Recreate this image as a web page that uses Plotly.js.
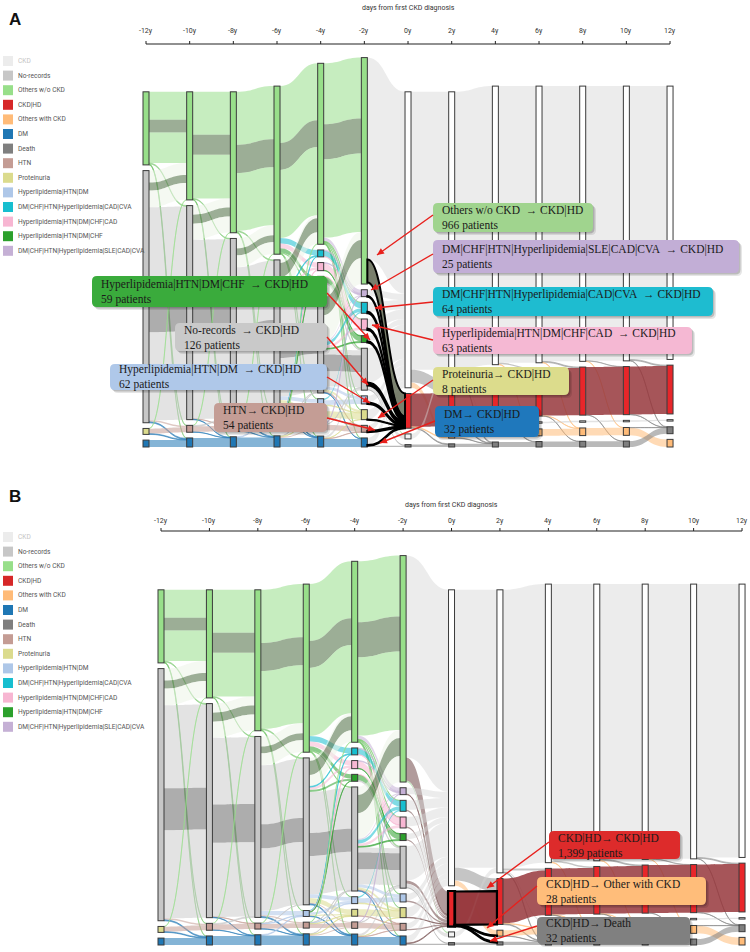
<!DOCTYPE html>
<html><head><meta charset="utf-8">
<script src="https://cdn.plot.ly/plotly-3.0.1.min.js"></script>
<style>html,body{margin:0;padding:0;background:#fff;}#chart{width:750px;height:952px;}</style>
</head><body><div id="chart"></div>
<script>
// ---------------- DATA ----------------
const timeLabels = ['-12y','-10y','-8y','-6y','-4y','-2y','0y','2y','4y','6y','8y','10y','12y'];
const axisTitle = 'days from first CKD diagnosis';
const stateNames = {S:'CKD', N:'No-records', G:'Others w/o CKD', R:'CKD|HD', O:'Others with CKD', D:'DM', De:'Death',
  H:'HTN', P:'Proteinuria', L:'Hyperlipidemia|HTN|DM', C:'DM|CHF|HTN|Hyperlipidemia|CAD|CVA',
  K:'Hyperlipidemia|HTN|DM|CHF|CAD', Q:'Hyperlipidemia|HTN|DM|CHF', U:'DM|CHF|HTN|Hyperlipidemia|SLE|CAD|CVA'};
const legendOrder = ['S','N','G','R','O','D','De','H','P','L','C','K','Q','U'];

// states present at each time point (top to bottom)
const columnStates = [
  ['G','N','P','D'],
  ['G','N','H','D'],
  ['G','N','H','D'],
  ['G','N','L','H','D'],
  ['G','C','K','Q','N','L','P','H','D'],
  ['G','U','C','K','Q','N','L','P','H','D'],
  ['S','R','N','De'],
  ['S','R','O','De'],
  ['S','R','N','O','De'],
  ['S','R','N','O','De'],
  ['S','R','N','O','De'],
  ['S','R','N','O','De'],
  ['S','R','N','De','O']
];

// patient flows between consecutive time points [from, to, patients]
// (a pair listed three times = sub-group shown in the middle)
const flowsM12 = [['G','G',1170],['G','G',540],['G','G',1280],['G','N',40],['G','H',20],['G','D',20],
  ['N','G',500],['N','G',340],['N','G',700],['N','N',3490],['N','N',1760],['N','N',3700],['N','H',60],['N','D',40],
  ['P','G',10],['P','H',210],['P','D',30],['D','D',290]];
const flowsM10 = [['G','G',1800],['G','G',840],['G','G',1840],['G','N',30],['G','H',10],['G','D',20],
  ['N','G',380],['N','G',380],['N','G',670],['N','N',2810],['N','N',1600],['N','N',3120],['N','H',10],['N','D',20],
  ['H','G',10],['H','N',40],['H','H',230],['H','D',10],['D','D',380]];
const flowsM8 = [['G','G',2230],['G','G',1180],['G','G',2430],['G','N',40],['G','L',20],['G','D',20],
  ['N','G',420],['N','G',290],['N','G',500],['N','N',2480],['N','N',1010],['N','N',2630],['N','L',180],['N','H',50],['N','D',40],
  ['H','G',10],['H','N',10],['H','L',20],['H','H',200],['H','D',10],['D','L',30],['D','D',400]];
const flowsM6 = [['G','G',2390],['G','G',1130],['G','G',2860],['G','C',230],['G','K',200],['G','Q',180],['G','N',30],['G','L',20],['G','D',20],
  ['N','G',130],['N','G',590],['N','G',480],['N','C',40],['N','K',100],['N','Q',90],['N','N',1720],['N','N',970],['N','N',1610],
  ['N','L',150],['N','P',200],['N','H',50],['N','D',40],
  ['L','C',20],['L','K',40],['L','Q',20],['L','L',100],['L','P',50],['L','D',20],
  ['H','G',20],['H','N',20],['H','L',20],['H','P',20],['H','H',170],
  ['D','N',20],['D','P',20],['D','H',50],['D','D',380]];
const flowsM4 = [['G','G',2560],['G','G',1470],['G','G',3290],['G','U',150],['G','C',20],['G','K',20],['G','N',40],['G','L',20],['G','P',10],['G','D',20],
  ['C','U',40],['C','C',230],['C','K',20],['K','U',30],['K','K',290],['K','Q',20],['Q','K',20],['Q','Q',230],['Q','N',40],
  ['N','G',340],['N','G',760],['N','G',1090],['N','U',50],['N','C',150],['N','K',110],['N','Q',40],['N','N',210],['N','N',710],['N','N',640],
  ['N','L',120],['N','P',100],['N','H',30],['N','D',20],
  ['L','C',60],['L','L',200],['L','P',30],['P','P',270],['P','H',20],['H','U',20],['H','N',20],['H','H',230],
  ['D','N',100],['D','P',10],['D','H',10],['D','D',340]];
const flowsM2 = [['G','S',8484],['G','R',966],['G','N',60],['U','S',265],['U','R',25],['C','S',396],['C','R',64],
  ['K','S',397],['K','R',63],['Q','S',231],['Q','R',59],['N','S',1434],['N','R',126],['N','N',150],['N','De',50],
  ['L','S',278],['L','R',62],['P','S',412],['P','R',8],['H','S',236],['H','R',54],['D','S',298],['D','R',32],['D','De',50]];
const flows0 = [['S','S',11678],['S','R',531],['S','O',222],['R','R',1399],['R','O',28],['R','De',32],['N','S',210],['De','De',100]];
const flows2 = [['S','S',11700],['S','R',90],['S','N',60],['S','De',38],['R','R',1880],['R','O',20],['R','De',30],['O','O',240],['O','De',10],['De','De',132]];
const flows4 = [['S','S',11620],['S','R',60],['S','O',20],['R','R',1940],['R','O',10],['R','De',20],['N','N',60],['O','O',260],['De','De',210]];
const flows6 = [['S','S',11560],['S','R',40],['S','O',20],['R','R',1980],['R','O',10],['R','De',10],['N','N',60],['O','O',290],['De','De',230]];
const flows8 = [['S','S',11540],['S','R',10],['S','O',10],['R','R',2010],['R','De',10],['N','N',60],['O','O',320],['De','De',240]];
const flows10 = [['S','S',11480],['S','R',40],['S','De',20],['R','R',2010],['R','De',10],['N','N',60],['O','O',320],['O','De',10],['De','De',250]];
const stageFlows = [flowsM12, flowsM10, flowsM8, flowsM6, flowsM4, flowsM2, flows0, flows2, flows4, flows6, flows8, flows10];

// callout texts
const calloutsA = [
  ['Others w/o CKD  \u2192 CKD|HD', '966 patients'],
  ['DM|CHF|HTN|Hyperlipidemia|SLE|CAD|CVA  \u2192 CKD|HD', '25 patients'],
  ['DM|CHF|HTN|Hyperlipidemia|CAD|CVA  \u2192 CKD|HD', '64 patients'],
  ['Hyperlipidemia|HTN|DM|CHF|CAD  \u2192 CKD|HD', '63 patients'],
  ['Proteinuria\u2192 CKD|HD', '8 patients'],
  ['DM\u2192 CKD|HD', '32 patients'],
  ['Hyperlipidemia|HTN|DM|CHF  \u2192 CKD|HD', '59 patients'],
  ['No-records  \u2192 CKD|HD', '126 patients'],
  ['Hyperlipidemia|HTN|DM  \u2192 CKD|HD', '62 patients'],
  ['HTN\u2192 CKD|HD', '54 patients']
];
const calloutsB = [
  ['CKD|HD\u2192 CKD|HD', '1,399 patients'],
  ['CKD|HD\u2192 Other with CKD', '28 patients'],
  ['CKD|HD\u2192 Death', '32 patients']
];

// ---------------- STYLE / LAYOUT ----------------
const stateColor = {S:'#ececec', N:'#c7c7c7', G:'#98df8a', R:'#d62728', O:'#ffbb78', D:'#1f77b4', De:'#7f7f7f',
  H:'#c49c94', P:'#dbdb8d', L:'#aec7e8', C:'#17becf', K:'#f7b6d2', Q:'#2ca02c', U:'#c5b0d5'};
const PW = 750, PH = 952;
const fx = x => x / PW, fy = y => 1 - y / PH;
function rgba(hex, a){ const n = parseInt(hex.slice(1),16); return 'rgba('+(n>>16)+','+((n>>8)&255)+','+(n&255)+','+a+')'; }

function linkColor(a, b, v, band){
  if (band) return b === 'G' ? 'rgba(95,125,85,0.62)' : 'rgba(105,105,105,0.55)';
  if (b === 'R') return a === 'R' ? 'rgba(150,55,60,0.85)' : (a === 'S' ? 'rgba(150,150,150,0.55)' : 'rgba(125,88,88,0.6)');
  if (b === 'S') return 'rgba(212,212,212,0.45)';
  if (a === 'N' && b === 'G') return 'rgba(236,244,232,0.55)';
  if (a === 'G' && b !== 'G' && v < 100) return 'rgba(120,200,110,0.5)';
  if (b === 'N' && a === 'N') return 'rgba(199,199,199,0.5)';
  return rgba(stateColor[b], 0.55);
}

function buildSankey(P){
  const idx = {}, nodes = [];
  columnStates.forEach((codes,c) => codes.forEach(code => { idx[c+':'+code] = nodes.length; nodes.push({c, code, inV:0, outV:0}); }));
  const links = [];
  stageFlows.forEach((flows, s) => {
    const count = {}, seen = {};
    flows.forEach(f => { const k = f[0]+'>'+f[1]; count[k] = (count[k]||0)+1; });
    flows.forEach(([a,b,v]) => {
      const k = a+'>'+b; seen[k] = (seen[k]||0)+1;
      const band = count[k] === 3 && seen[k] === 2;
      const si = idx[s+':'+a], ti = idx[(s+1)+':'+b];
      nodes[si].outV += v; nodes[ti].inV += v;
      links.push({si, ti, v, idx: links.length, color: linkColor(a,b,v,band), hl: P.highlight(s,a,b)});
    });
  });
  nodes.forEach(n => n.v = Math.max(n.inV, n.outV));
  const W = P.dom[1]-P.dom[0], H = P.dom[3]-P.dom[2];
  let pad = Infinity;
  columnStates.forEach((codes,c) => {
    const sum = codes.reduce((t,code) => t + nodes[idx[c+':'+code]].v, 0);
    if (codes.length > 1) pad = Math.min(pad, (H - P.ky*sum)/(codes.length-1));
  });
  columnStates.forEach((codes,c) => {
    let y = P.bottom;
    for (let i = codes.length-1; i >= 0; i--) {
      const n = nodes[idx[c+':'+codes[i]]];
      const h = n.v*P.ky;
      n.y1 = y; n.y0 = y - h; n.cy = y - h/2; y -= h + P.gap;
    }
  });
  // link band positions (same ordering rule as the sankey layout)
  nodes.forEach(n => { n.out = []; n.inn = []; });
  links.forEach(l => { nodes[l.si].out.push(l); nodes[l.ti].inn.push(l); });
  nodes.forEach(n => {
    n.out.sort((a,b) => (nodes[a.ti].y0 - nodes[b.ti].y0) || (a.idx - b.idx));
    n.inn.sort((a,b) => (nodes[a.si].y0 - nodes[b.si].y0) || (a.idx - b.idx));
    let y = n.y0; n.out.forEach(l => { l.sy0 = y; y += l.v*P.ky; });
    y = n.y0; n.inn.forEach(l => { l.ty0 = y; y += l.v*P.ky; });
  });
  const domain = {x:[fx(P.dom[0]), fx(P.dom[1])], y:[fy(P.dom[3]), fy(P.dom[2])]};
  const main = {
    type:'sankey', arrangement:'fixed', hoverinfo:'none', domain,
    node:{ pad, thickness:6, hoverinfo:'none', label: nodes.map(() => ''),
      x: nodes.map(n => (P.colX[n.c]-P.dom[0])/W),
      y: nodes.map(n => (n.cy-P.dom[2])/H),
      color: nodes.map(n => n.code === 'S' ? '#ffffff' : (n.code === 'R' ? '#e8262a' : (n.code==='N' && n.c>5 ? '#f4f4f4' : stateColor[n.code]))),
      line:{color:'#3a3a3a', width:1}},
    link:{source: links.map(l=>l.si), target: links.map(l=>l.ti), value: links.map(l=>l.v), color: links.map(l=>l.color),
      hoverinfo:'none', line:{color:'rgba(0,0,0,0)', width:0}}
  };
  // overlay trace with the emphasised flows, outlined in black
  const hl = links.filter(l => l.hl);
  const on = [], ol = {source:[], target:[], value:[], color:[]};
  hl.forEach(l => {
    const w = l.v*P.ky;
    ol.source.push(on.length); on.push({c: nodes[l.si].c, cy: l.sy0 + w/2});
    ol.target.push(on.length); on.push({c: nodes[l.ti].c, cy: l.ty0 + w/2});
    ol.value.push(l.v); ol.color.push(l.hl.fill);
  });
  // off-canvas filler flow so that the overlay uses the same value-to-pixel scale
  const hsum = hl.reduce((t,l) => t + l.v, 0);
  const opad = 1, ncol = hl.length + 1;
  const filler = Math.round((H - (ncol-1)*opad)/P.ky - hsum);
  ol.source.push(on.length); on.push({c: 0, cy: 2400});
  ol.target.push(on.length); on.push({c: 1, cy: 2400});
  ol.value.push(filler); ol.color.push('rgba(0,0,0,0)');
  const overlay = {
    type:'sankey', arrangement:'fixed', hoverinfo:'none', domain,
    node:{ pad: opad, thickness:6, hoverinfo:'none', label: on.map(() => ''),
      x: on.map(n => (P.colX[n.c]-P.dom[0])/W), y: on.map(n => (n.cy-P.dom[2])/H),
      color: 'rgba(0,0,0,0)', line:{color:'rgba(0,0,0,0)', width:0}},
    link:{source: ol.source, target: ol.target, value: ol.value, color: ol.color, hoverinfo:'none',
      line:{color:'#000', width:P.hlWidth}}
  };
  return {main, overlay, nodeAt: (c, code) => nodes[idx[c+':'+code]]};
}

const colXA = timeLabels.map((t,i) => 146 + i*43.67);
const colXB = timeLabels.map((t,i) => 161 + i*48.42);

const sA = buildSankey({colX: colXA, dom:[140,676,50,452], bottom:447, gap:5.7, ky:1/42, hlWidth:2,
  highlight:(s,a,b) => (s === 5 && b === 'R') ? {fill: a === 'G' ? 'rgba(112,122,100,0.85)' : '#000'} : null});
const sB = buildSankey({colX: colXB, dom:[155,748,545,948], bottom:945, gap:5.7, ky:1/42, hlWidth:2.2,
  highlight:(s,a,b) => (s === 6 && a === 'R') ? {fill: b === 'R' ? 'rgba(150,55,60,0.85)' : '#000'} : null});

const shapes = [], annotations = [];
function line(x0,y0,x1,y1,color,w){ shapes.push({type:'line', xref:'paper', yref:'paper', x0:fx(x0), y0:fy(y0), x1:fx(x1), y1:fy(y1), line:{color, width:w}, layer:'above'}); }
function rect(x0,y0,x1,y1,fill,lc,lw){ shapes.push({type:'rect', xref:'paper', yref:'paper', x0:fx(x0), y0:fy(y1), x1:fx(x1), y1:fy(y0), fillcolor:fill, line:{color:lc||'rgba(0,0,0,0)', width:lw||0}, layer:'above'}); }
const P2 = (x,y) => fx(x).toFixed(5)+','+fy(y).toFixed(5);
function rrPath(x0,y0,x1,y1,r){
  return 'M'+P2(x0+r,y0)+' L'+P2(x1-r,y0)+' Q'+P2(x1,y0)+' '+P2(x1,y0+r)+' L'+P2(x1,y1-r)+' Q'+P2(x1,y1)+' '+P2(x1-r,y1)+
    ' L'+P2(x0+r,y1)+' Q'+P2(x0,y1)+' '+P2(x0,y1-r)+' L'+P2(x0,y0+r)+' Q'+P2(x0,y0)+' '+P2(x0+r,y0)+' Z';
}
function rr(x0,y0,x1,y1,r,fill){ shapes.push({type:'path', xref:'paper', yref:'paper', path:rrPath(x0,y0,x1,y1,r), fillcolor:fill, line:{width:0}, layer:'above'}); }
function txt(x,y,text,size,color,family,anchor,bold){
  annotations.push({xref:'paper', yref:'paper', x:fx(x), y:fy(y), text: bold ? '<b>'+text+'</b>' : text, showarrow:false,
    xanchor:anchor||'left', yanchor:'middle', align:'left', borderpad:0, font:{size, color, family}});
}
function arrow(x0,y0,x1,y1){
  line(x0,y0,x1,y1,'#e8201c',1.4);
  const dx = x1-x0, dy = y1-y0, len = Math.hypot(dx,dy), ux = dx/len, uy = dy/len;
  const bx = x1-ux*7, by = y1-uy*7, px = -uy*3.2, py = ux*3.2;
  shapes.push({type:'path', xref:'paper', yref:'paper', path:'M'+P2(x1,y1)+' L'+P2(bx+px,by+py)+' L'+P2(bx-px,by-py)+' Z',
    fillcolor:'#e8201c', line:{width:0}, layer:'above'});
}
function callout(box, lines, color, tail, head){
  const [x0,y0,x1,y1] = box;
  rr(x0+3,y0+3,x1+3,y1+3,5,'rgba(0,0,0,0.10)');
  rr(x0+1.5,y0+1.5,x1+1.5,y1+1.5,5,'rgba(0,0,0,0.18)');
  rr(x0,y0,x1,y1,5,color);
  txt(x0+8, (y0+y1)/2+0.5, lines[0].replace(/  /g,'\u00a0 ')+'<br>'+lines[1], 11.5, '#1a1a1a', 'Liberation Serif, Times New Roman, serif');
  if (tail) arrow(tail[0],tail[1],head[0],head[1]);
}
function axis(colX, lineY, labelY, titleY){
  line(colX[0], lineY, colX[12], lineY, '#222', 1.2);
  colX.forEach((x,i) => { line(x, lineY-3, x, lineY, '#222', 1); txt(x, labelY, timeLabels[i], 7, '#333', 'Roboto, sans-serif', 'center'); });
  txt((colX[0]+colX[12])/2, titleY, axisTitle, 7, '#333', 'Roboto, sans-serif', 'center');
}
function legend(y0){
  legendOrder.forEach((code,i) => {
    const y = y0 + i*14.6;
    rect(3, y-5, 13, y+5, stateColor[code]);
    txt(17, y, stateNames[code], 6.6, code === 'S' ? '#c4c4c4' : '#555', 'Roboto, sans-serif');
  });
}

// Panel A
txt(8, 19, 'A', 17, '#111', 'Liberation Sans, Arial, sans-serif', 'left', true);
axis(colXA, 44, 31, 8);
legend(61);
const boxesA = [
  [[433,203,593,232],'#a0d48e',[433,215],[377,255]],
  [[433,240,739,273],'#c2aed6',[433,254],[371,290]],
  [[433,287,713,316],'#1ebcd0',[433,302],[375,308]],
  [[433,327,692,354],'#f5b8d3',[433,340],[372,325]],
  [[433,367,569,395],'#dcdc8c',[433,380],[378,418]],
  [[435,406,539,437],'#1f78bc',[435,421],[380,443]],
  [[92,276,327,307],'#3aab3c',[327,293],[370,340]],
  [[175,323,327,351],'#c9c9c9',[327,337],[368,385]],
  [[110,364,327,390],'#afc8e9',[327,377],[370,403]],
  [[214,403,327,432],'#c49d95',[327,418],[375,430]]
];
boxesA.forEach((b,i) => callout(b[0], calloutsA[i], b[1], b[2], b[3]));

// Panel B
txt(8, 496, 'B', 17, '#111', 'Liberation Sans, Arial, sans-serif', 'left', true);
axis(colXB, 531, 521, 505);
legend(537);
const rB = sB.nodeAt(6, 'R');
rect(colXB[6]-3.5, rB.y0-0.5, colXB[6]+3.5, rB.y1+0.5, 'rgba(0,0,0,0)', '#000', 2.2);
const boxesB = [
  [[549,831,680,859],'#dd2b2b',[549,842],[487,888]],
  [[537,877,706,905],'#ffbd7a',[537,886],[487,928]],
  [[537,917,690,944],'#808080',[537,926],[490,941]]
];
boxesB.forEach((b,i) => callout(b[0], calloutsB[i], b[1], b[2], b[3]));

Plotly.newPlot('chart', [sA.main, sA.overlay, sB.main, sB.overlay], {
  width: PW, height: PH, margin:{l:0,r:0,t:0,b:0}, paper_bgcolor:'#fff', plot_bgcolor:'#fff',
  showlegend:false, shapes, annotations, font:{family:'Open Sans, sans-serif'}
}, {displayModeBar:false, staticPlot:true});
</script></body></html>
